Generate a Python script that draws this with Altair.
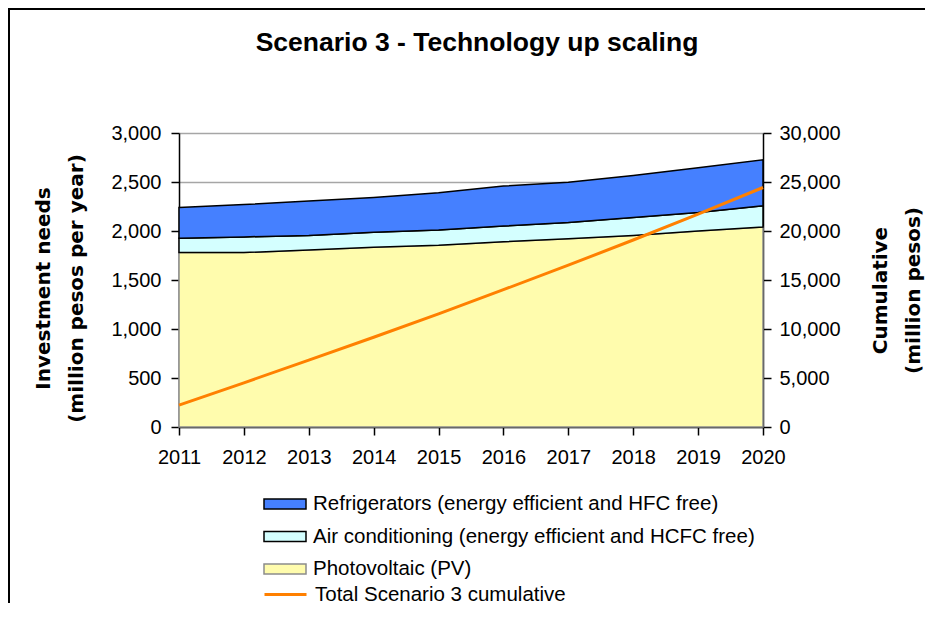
import altair as alt
import pandas as pd

years = [2011, 2012, 2013, 2014, 2015, 2016, 2017, 2018, 2019, 2020]
pv = [1780, 1780, 1805, 1835, 1855, 1890, 1920, 1955, 2000, 2040]
aircon = [145, 160, 150, 153, 156, 160, 166, 183, 190, 217]
fridges = [315, 330, 350, 354, 380, 408, 412, 429, 456, 469]
cumulative = [2240, 4510, 6820, 9160, 11550, 14010, 16510, 19080, 21720, 24440]

name_ref = "Refrigerators (energy efficient and HFC free)"
name_ac = "Air conditioning (energy efficient and HCFC free)"
name_pv = "Photovoltaic (PV)"
name_cum = "Total Scenario 3 cumulative"

rows = []
for i, y in enumerate(years):
    rows.append({"year": y, "series": name_pv, "value": pv[i], "ord": 0})
    rows.append({"year": y, "series": name_ac, "value": aircon[i], "ord": 1})
    rows.append({"year": y, "series": name_ref, "value": fridges[i], "ord": 2})
area_df = pd.DataFrame(rows)
line_df = pd.DataFrame({"year": years, "cum": cumulative, "series": [name_cum] * len(years)})

LABEL_FONT = "Liberation Sans"
TITLE_FONT = "DejaVu Sans"

x_enc = alt.X(
    "year:Q",
    scale=alt.Scale(domain=[2011, 2020], nice=False, zero=False),
    axis=alt.Axis(values=years, format="d", title=None, grid=False,
                  labelPadding=12, labelOverlap=False, labelFlush=False),
)

area_legend = alt.Legend(
    title=None, orient="none", legendX=84, legendY=360,
    symbolType="M-2.1,-0.5H2.1V0.5H-2.1Z", symbolSize=400, symbolOffset=11,
    symbolStrokeWidth=1.5, symbolOpacity=1,
    labelFontSize=20.5, labelFont=LABEL_FONT, labelColor="black", labelLimit=0,
    labelOffset=17, rowPadding=10.5, padding=0,
)

areas = alt.Chart(area_df).mark_area(strokeWidth=1.5, opacity=1).encode(
    x=x_enc,
    y=alt.Y(
        "value:Q", stack="zero",
        scale=alt.Scale(domain=[0, 3000], nice=False),
        axis=alt.Axis(
            values=[0, 500, 1000, 1500, 2000, 2500, 3000], format=",d",
            grid=True, gridColor="#a6a6a6", gridWidth=1.5,
            labelPadding=10,
            title=["Investment needs", "(million pesos per year)"],
            titleX=-136, titleY=155, titleAngle=270, titleBaseline="middle",
            titleAlign="center", titleLineHeight=33,
        ),
    ),
    fill=alt.Fill(
        "series:N",
        scale=alt.Scale(domain=[name_ref, name_ac, name_pv], range=["#4580FF", "#D4FFFF", "#FFFCAD"]),
        legend=area_legend,
    ),
    stroke=alt.Stroke(
        "series:N",
        scale=alt.Scale(domain=[name_ref, name_ac, name_pv], range=["#000000", "#000000", "#8c8c8c"]),
        legend=area_legend,
    ),
    order=alt.Order("ord:Q", sort="ascending"),
)

line = alt.Chart(line_df).mark_line(strokeWidth=3).encode(
    x=x_enc,
    y=alt.Y(
        "cum:Q",
        scale=alt.Scale(domain=[0, 30000], nice=False),
        axis=alt.Axis(
            orient="right",
            values=[0, 5000, 10000, 15000, 20000, 25000, 30000], format=",d",
            grid=False, labelPadding=8,
            title=["Cumulative", "(million pesos)"],
            titleX=117, titleY=157, titleAngle=270, titleBaseline="middle",
            titleAlign="center", titleLineHeight=33,
        ),
    ),
    color=alt.Color(
        "series:N",
        scale=alt.Scale(domain=[name_cum], range=["#FF8000"]),
        legend=alt.Legend(
            title=None, orient="none", legendX=84, legendY=439,
            symbolType="stroke", symbolSize=1764, symbolStrokeWidth=3,
            labelFontSize=20.5, labelFont=LABEL_FONT, labelColor="black", labelLimit=0,
            labelOffset=7, padding=0,
        ),
    ),
)

frame_src = alt.Data(values=[{"k": 1}])
frame_left = alt.Chart(frame_src).mark_rule(color="black", strokeWidth=2).encode(
    x=alt.value(-170), y=alt.value(-124), y2=alt.value(480)
)
frame_top = alt.Chart(frame_src).mark_rule(color="black", strokeWidth=2).encode(
    x=alt.value(-171), x2=alt.value(780), y=alt.value(-124)
)

chart = alt.layer(areas, line, frame_left, frame_top).resolve_scale(y="independent").properties(
    width=584,
    height=294,
    padding={"left": 171, "top": 125, "right": 162, "bottom": 176},
    autosize=alt.AutoSizeParams(type="none"),
    title=alt.Title(
        "Scenario 3 - Technology up scaling",
        font=LABEL_FONT, fontSize=26.5, fontWeight="bold", color="black",
        anchor="middle", frame="group", baseline="alphabetic", offset=-69, dx=6,
    ),
).configure_view(stroke=None).configure_axis(
    domainColor="black", domainWidth=1.5, tickColor="black", tickWidth=1.5, tickSize=8,
    labelFont=LABEL_FONT, labelFontSize=20, labelColor="black",
    titleFont=TITLE_FONT, titleFontSize=20, titleFontWeight="bold", titleColor="black",
)

chart.save("out.html", embed_options={"renderer": "svg", "actions": False})
